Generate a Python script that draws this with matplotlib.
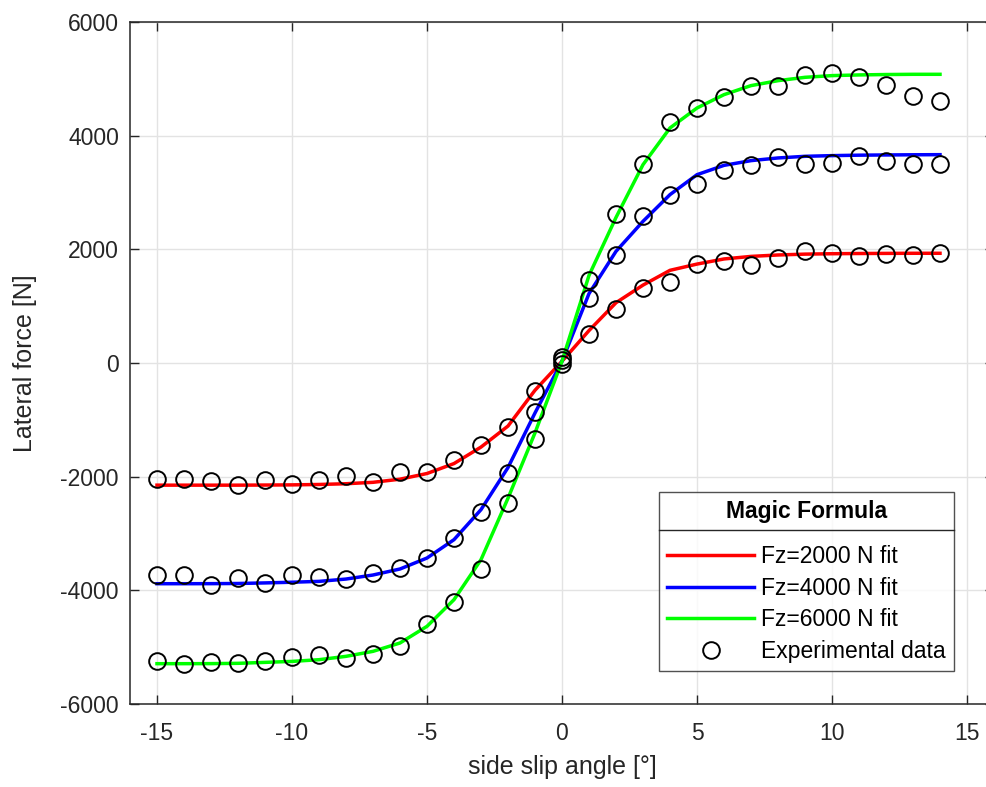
import numpy as np
import matplotlib
matplotlib.use("Agg")
import matplotlib.pyplot as plt
from matplotlib.lines import Line2D

plt.rcParams['font.family'] = ['Liberation Sans', 'DejaVu Sans']
plt.rcParams['axes.unicode_minus'] = False

# side slip angle [deg]
alpha = np.arange(-15, 15)

# experimental lateral force [N]
exp_2000 = [-2041, -2035, -2083, -2153, -2065, -2135, -2065, -1995, -2100, -1924,
            -1918, -1702, -1449, -1133, -487, 50, 510, 943, 1313, 1431,
            1742, 1788, 1730, 1848, 1964, 1941, 1883, 1923, 1894, 1936]
exp_4000 = [-3725, -3737, -3901, -3784, -3866, -3737, -3772, -3802, -3702, -3608,
            -3432, -3080, -2622, -1936, -869, 110, 1137, 1894, 2580, 2962,
            3150, 3401, 3477, 3625, 3502, 3519, 3636, 3555, 3495, 3507]
exp_6000 = [-5239, -5291, -5262, -5280, -5251, -5168, -5139, -5198, -5121, -4975,
            -4588, -4201, -3625, -2464, -1337, -20, 1454, 2622, 3502, 4234,
            4492, 4681, 4880, 4880, 5061, 5103, 5033, 4897, 4691, 4616]

# Magic Formula fits [N]
fit_2000 = [-2150, -2150, -2150, -2150, -2148, -2145, -2138, -2125, -2100, -2045,
            -1945, -1770, -1480, -1110, -480, 30, 570, 1060, 1370, 1630,
            1740, 1830, 1875, 1900, 1915, 1922, 1926, 1928, 1930, 1930]
fit_4000 = [-3884, -3884, -3883, -3880, -3870, -3858, -3843, -3802, -3731, -3625,
            -3432, -3109, -2581, -1840, -880, 30, 1220, 1964, 2492, 2962,
            3313, 3477, 3560, 3607, 3636, 3648, 3656, 3660, 3663, 3665]
fit_6000 = [-5291, -5291, -5290, -5285, -5268, -5251, -5221, -5162, -5074, -4927,
            -4634, -4165, -3461, -2380, -1230, 30, 1540, 2560, 3489, 4135,
            4486, 4721, 4880, 4967, 5026, 5056, 5068, 5075, 5079, 5079]

fit_labels = ["Fz=2000 N fit", "Fz=4000 N fit", "Fz=6000 N fit"]
fit_colors = ["#ff0000", "#0000ff", "#00ff00"]

fig = plt.figure(figsize=(9.87, 7.87), dpi=100)
ax = fig.add_axes([0.1317, 0.1055, 0.8754, 0.8666])

for fit, lab, col in zip([fit_2000, fit_4000, fit_6000], fit_labels, fit_colors):
    ax.plot(alpha, fit, color=col, lw=2.5, label=lab, zorder=3)

for i, e in enumerate([exp_2000, exp_4000, exp_6000]):
    ax.plot(alpha, e, 'o', mfc='none', mec='black', ms=12, mew=1.4,
            label="Experimental data" if i == 0 else None, zorder=4)

ax.set_xlim(-16, 16)
ax.set_ylim(-6000, 6000)
ax.set_xticks(np.arange(-15, 16, 5))
ax.set_yticks(np.arange(-6000, 6001, 2000))
ax.grid(True, color='#e3e3e3', lw=1.0)
ax.set_axisbelow(True)
ax.tick_params(direction='in', length=6.5, width=1.0, top=True, right=True,
               labelsize=16.5, colors='#262626', pad=8)
ax.tick_params(axis='x', pad=13)
for s in ax.spines.values():
    s.set_color('#262626')
    s.set_linewidth(1.1)

ax.set_xlabel("side slip angle [°]", fontsize=18, color='#262626', labelpad=7)
ax.set_ylabel("Lateral force [N]", fontsize=18, color='#262626', labelpad=17)

leg = ax.legend(loc='lower right', bbox_to_anchor=(0.9537, 0.0484),
                title="Magic Formula", fontsize=16.5, frameon=True,
                fancybox=False, edgecolor='#262626', handlelength=3.8,
                handletextpad=0.3, borderpad=0.35, labelspacing=0.38,
                borderaxespad=0)
leg.get_title().set_fontweight('bold')
leg.get_title().set_fontsize(16.5)
leg.get_frame().set_linewidth(1.0)
leg._legend_box.sep = 16

fig.canvas.draw()
lb = leg.get_window_extent()
tb = leg.get_title().get_window_extent()
ysep = tb.y0 - 7
inv = fig.transFigure.inverted()
(x0, y0), (x1, _) = inv.transform([(lb.x0, ysep), (lb.x1, ysep)])
fig.add_artist(Line2D([x0, x1], [y0, y0], color='#262626', lw=1.0))

fig.savefig("out.png", dpi=100)
